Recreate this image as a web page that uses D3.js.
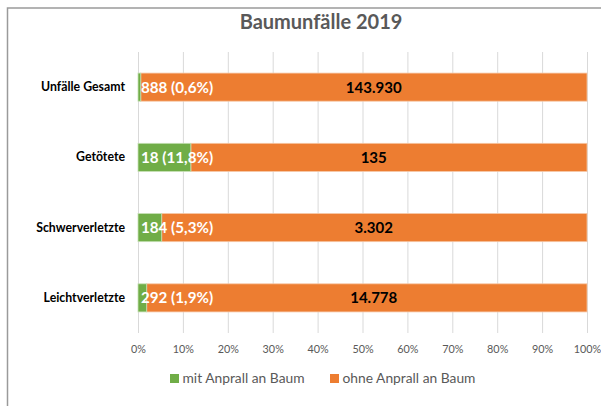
<!DOCTYPE html>
<html>
<head>
<meta charset="utf-8">
<script src="https://cdn.jsdelivr.net/npm/d3@7"></script>
<style>
  body { margin: 0; background: #fff; }
  svg { display: block; font-family: Lato, "Open Sans", sans-serif; }
</style>
</head>
<body>
<svg id="chart" width="601" height="406"></svg>
<script>
'use strict'

// categories and series (counts)
const categories = ["Unfälle Gesamt", "Getötete", "Schwerverletzte", "Leichtverletzte"];
const mitBaum   = [888, 18, 184, 292];
const ohneBaum  = [143930, 135, 3302, 14778];
const pctLabels = ["0,6%", "11,8%", "5,3%", "1,9%"];
const ohneLabels = ["143.930", "135", "3.302", "14.778"];
const seriesNames = ["mit Anprall an Baum", "ohne Anprall an Baum"];
const tickValues = [0, 0.1, 0.2, 0.3, 0.4, 0.5, 0.6, 0.7, 0.8, 0.9, 1];

const colors = ["#70AD47", "#ED7D31"];

const svg = d3.select("#chart");

// outer chart border (only top and left visible in the crop)
svg.append("rect")
  .attr("x", 7.5).attr("y", 8)
  .attr("width", 640).attr("height", 420)
  .attr("fill", "none")
  .attr("stroke", "#9a9a9a")
  .attr("stroke-width", 1.5);

// title
svg.append("text")
  .attr("x", 321).attr("y", 29)
  .attr("text-anchor", "middle")
  .attr("font-size", 20)
  .attr("font-weight", "bold")
  .attr("fill", "#595959")
  .text("Baumunfälle 2019");

let margin = {top: 52, left: 138},
    width  = 449,
    height = 281;

let x = d3.scaleLinear().domain([0, 1]).range([0, width]);
let y = d3.scaleBand().domain(categories).range([0, height])
  .paddingInner(0.6).paddingOuter(0.3);

let g = svg.append("g").attr("transform", `translate(${margin.left},${margin.top})`);

// gridlines
g.append("g")
  .selectAll("line")
  .data(tickValues)
  .enter().append("line")
    .attr("x1", d => x(d) + 0.5).attr("x2", d => x(d) + 0.5)
    .attr("y1", 0).attr("y2", height)
    .attr("stroke", "#d9d9d9")
    .attr("stroke-width", 1);

// x axis tick labels
let xAxis = g.append("g")
  .attr("transform", `translate(0,${height})`)
  .call(d3.axisBottom(x).tickValues(tickValues).tickFormat(d3.format(".0%")).tickSize(0).tickPadding(12));
xAxis.select(".domain").remove();
xAxis.selectAll("text")
  .attr("font-family", "Lato, 'Open Sans', sans-serif")
  .attr("font-size", 10.8)
  .attr("fill", "#595959");

// y axis category labels
let yAxis = g.append("g")
  .call(d3.axisLeft(y).tickSize(0).tickPadding(13));
yAxis.select(".domain").remove();
yAxis.selectAll("text")
  .attr("font-family", "Lato, 'Open Sans', sans-serif")
  .attr("font-size", 12.3)
  .attr("font-weight", "bold")
  .attr("fill", "#000");

// stacked shares
let rows = categories.map((c, i) => {
  let total = mitBaum[i] + ohneBaum[i];
  return {cat: c, mit: mitBaum[i] / total, i: i};
});

// orange (ohne) segments
g.selectAll(".bar-ohne")
  .data(rows)
  .enter().append("rect")
    .attr("class", "bar-ohne")
    .attr("x", d => x(d.mit))
    .attr("y", d => y(d.cat))
    .attr("width", d => x(1) - x(d.mit))
    .attr("height", y.bandwidth())
    .attr("fill", colors[1])
    .attr("stroke", "#f6c7a6")
    .attr("stroke-width", 0.8);

// green (mit) segments
g.selectAll(".bar-mit")
  .data(rows)
  .enter().append("rect")
    .attr("class", "bar-mit")
    .attr("x", x(0))
    .attr("y", d => y(d.cat))
    .attr("width", d => x(d.mit))
    .attr("height", y.bandwidth())
    .attr("fill", colors[0])
    .attr("stroke", "#c6e0b4")
    .attr("stroke-width", 0.8);

// labels for mit Anprall (inside base, white)
g.selectAll(".lbl-mit")
  .data(rows)
  .enter().append("text")
    .attr("class", "lbl-mit")
    .attr("x", x(0) + 3)
    .attr("y", d => y(d.cat) + y.bandwidth() / 2)
    .attr("dy", "0.36em")
    .attr("font-size", 15.2)
    .attr("font-weight", "bold")
    .attr("fill", "#fff")
    .text(d => `${mitBaum[d.i]} (${pctLabels[d.i]})`);

// labels for ohne Anprall (black)
g.selectAll(".lbl-ohne")
  .data(rows)
  .enter().append("text")
    .attr("class", "lbl-ohne")
    .attr("x", x(0.525))
    .attr("y", d => y(d.cat) + y.bandwidth() / 2)
    .attr("dy", "0.36em")
    .attr("text-anchor", "middle")
    .attr("font-size", 15)
    .attr("font-weight", "bold")
    .attr("fill", "#000")
    .text(d => ohneLabels[d.i]);

// legend
let legendX = [170, 330];
let legend = svg.append("g");
seriesNames.forEach((name, i) => {
  legend.append("rect")
    .attr("x", legendX[i]).attr("y", 374)
    .attr("width", 9).attr("height", 9)
    .attr("fill", colors[i]);
  legend.append("text")
    .attr("x", legendX[i] + 12.5).attr("y", 378.5)
    .attr("dy", "0.36em")
    .attr("font-size", 13.8)
    .attr("fill", "#595959")
    .text(name);
});
</script>
</body>
</html>
